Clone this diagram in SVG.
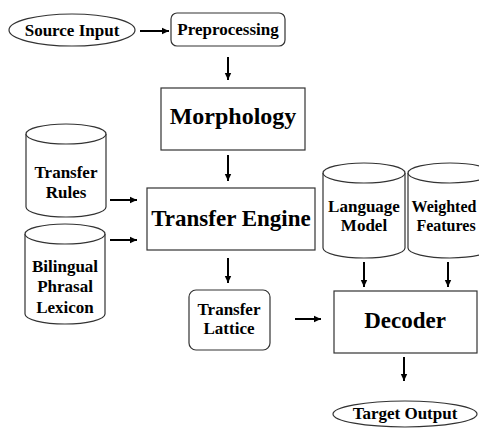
<svg xmlns="http://www.w3.org/2000/svg" width="479" height="428" viewBox="0 0 479 428">
<style>
.s{fill:#fff;stroke:#333;stroke-width:1.2}
.t{font-family:"Liberation Serif","Times New Roman",serif;font-weight:bold;fill:#000;text-anchor:middle}
.sm{font-size:17px}
.lg{font-size:23px}
.a{stroke:#000;stroke-width:2;fill:none;marker-end:url(#ah)}
</style>
<defs>
<marker id="ah" markerUnits="userSpaceOnUse" markerWidth="8" markerHeight="8" refX="7" refY="4" orient="auto">
<path d="M0,0.8 L7,4 L0,7.2 Z" fill="#000"/>
</marker>
</defs>
<rect width="479" height="428" fill="#fff"/>
<g id="source-input">
<ellipse class="s" cx="72" cy="30" rx="63" ry="16"/>
<text class="t sm" x="72" y="36">Source Input</text>
</g>
<g id="preprocessing">
<rect class="s" x="171" y="13" width="114" height="33" rx="6"/>
<text class="t sm" x="228" y="35">Preprocessing</text>
</g>
<g id="morphology">
<rect class="s" x="161" y="88" width="144" height="62"/>
<text class="t" style="font-size:24px" x="233" y="124">Morphology</text>
</g>
<g id="transfer-engine">
<rect class="s" x="147" y="188" width="168" height="62"/>
<text class="t lg" x="231" y="226">Transfer Engine</text>
</g>
<g id="transfer-rules">
<path class="s" d="M26,134 A40,10 0 0 1 106,134 L106,207 A40,10 0 0 1 26,207 Z"/>
<path class="s" fill="none" d="M26,134 A40,10 0 0 0 106,134"/>
<text class="t sm" x="66" y="178">Transfer</text>
<text class="t sm" x="66" y="198">Rules</text>
</g>
<g id="bilingual-phrasal-lexicon">
<path class="s" d="M25,234 A40,10 0 0 1 105,234 L105,314 A40,10 0 0 1 25,314 Z"/>
<path class="s" fill="none" d="M25,234 A40,10 0 0 0 105,234"/>
<text class="t sm" x="65" y="272">Bilingual</text>
<text class="t sm" x="65" y="292">Phrasal</text>
<text class="t sm" x="65" y="313">Lexicon</text>
</g>
<g id="language-model">
<path class="s" d="M323,173 A41,10 0 0 1 405,173 L405,248 A41,10 0 0 1 323,248 Z"/>
<path class="s" fill="none" d="M323,173 A41,10 0 0 0 405,173"/>
<text class="t sm" x="364" y="212">Language</text>
<text class="t sm" x="364" y="231">Model</text>
</g>
<g id="weighted-features">
<path class="s" d="M408,173 A42,10 0 0 1 492,173 L492,248 A42,10 0 0 1 408,248 Z"/>
<path class="s" fill="none" d="M408,173 A42,10 0 0 0 492,173"/>
<text class="t" style="font-size:16px" x="444" y="212">Weighted</text>
<text class="t" style="font-size:16px" x="446" y="231">Features</text>
</g>
<g id="transfer-lattice">
<rect class="s" x="189" y="290" width="81" height="60" rx="7"/>
<text class="t sm" x="229" y="315">Transfer</text>
<text class="t sm" x="229" y="334">Lattice</text>
</g>
<g id="decoder">
<rect class="s" x="334" y="291" width="143" height="62"/>
<text class="t lg" x="405" y="328">Decoder</text>
</g>
<g id="target-output">
<ellipse class="s" cx="405" cy="414" rx="72" ry="13"/>
<text class="t sm" x="405" y="419">Target Output</text>
</g>
<g id="connectors">
<line class="a" x1="140" y1="31" x2="169" y2="31"/>
<line class="a" x1="228" y1="57" x2="228" y2="80"/>
<line class="a" x1="228" y1="155" x2="228" y2="181"/>
<line class="a" x1="110" y1="200" x2="137" y2="200"/>
<line class="a" x1="110" y1="240" x2="137" y2="240"/>
<line class="a" x1="228" y1="258" x2="228" y2="283"/>
<line class="a" x1="295" y1="319" x2="321" y2="319"/>
<line class="a" x1="364" y1="262" x2="364" y2="287"/>
<line class="a" x1="448" y1="262" x2="448" y2="287"/>
<line class="a" x1="404" y1="357" x2="404" y2="381"/>
</g>
</svg>
